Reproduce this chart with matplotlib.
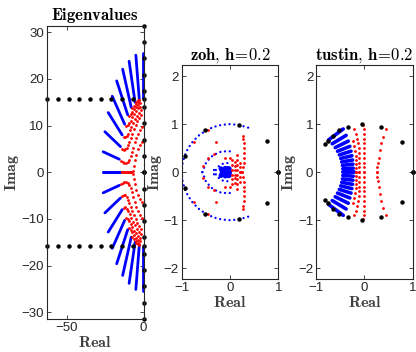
import numpy as np
import matplotlib
matplotlib.use("Agg")
import matplotlib.pyplot as plt

plt.rcParams['mathtext.fontset'] = 'cm'
plt.rcParams['font.family'] = ['Liberation Sans', 'DejaVu Sans']

# ---- continuous time (upper half, lower half is the conjugate)
ct_black_imag = [0, 3.49, 6.98, 10.47, 13.96, 15.71, 17.45, 20.94, 24.43, 27.93, 31.42]
ct_black_row_x = [-62.8, -55.9, -48.9, -41.9, -34.9, -27.9, -20.9, -14.0, -7.0]
ct_black_row_y = 15.71
# blue rays: outer point -> inner point
ct_blue_outer = [(-26.7, 0), (-26.3, 4.4), (-25.2, 8.7), (-23.0, 12.8), (-20.4, 16.3),
                 (-17.5, 19.6), (-13.6, 22.1), (-9.4, 23.8), (-5.0, 25.1), (-0.4, 25.5)]
ct_blue_inner = [(-15.3, 0), (-15.8, 2.8), (-15.0, 5.5), (-13.9, 8.0), (-12.3, 10.3),
                 (-10.3, 12.3), (-8.0, 13.9), (-5.5, 15.0), (-2.8, 15.8), (-0.4, 16.0)]
ct_red = [
    [(-14.3, 0), (-13.0, 0), (-11.7, 0), (-10.4, 0), (-9.1, 0), (-7.9, 0), (-6.8, 0.3),
     (-6.3, 1.4), (-5.6, 2.6), (-4.7, 3.8), (-3.6, 4.9), (-2.4, 5.8), (-1.2, 6.4)],
    [(-14.7, 2.5), (-13.6, 2.2), (-12.5, 2.0), (-11.4, 2.0), (-10.3, 2.2), (-9.3, 2.7),
     (-8.4, 3.4), (-7.5, 4.3), (-6.6, 5.3), (-5.7, 6.4), (-4.7, 7.4), (-3.6, 8.3), (-2.4, 9.1), (-1.2, 9.7)],
    [(-14.0, 5.0), (-13.0, 4.8), (-12.0, 4.9), (-11.0, 5.3), (-10.1, 5.9), (-9.2, 6.6),
     (-8.3, 7.4), (-7.3, 8.3), (-6.3, 9.2), (-5.2, 10.1), (-4.1, 10.9), (-2.9, 11.6), (-1.6, 12.2)],
    [(-12.9, 7.6), (-11.9, 7.5), (-10.9, 7.8), (-9.9, 8.3), (-8.9, 9.0), (-7.9, 9.8),
     (-6.8, 10.6), (-5.6, 11.4), (-4.4, 12.1), (-3.1, 12.8), (-1.8, 13.3)],
    [(-11.4, 9.9), (-10.4, 10.1), (-9.4, 10.5), (-8.3, 11.1), (-7.2, 11.8), (-6.0, 12.5),
     (-4.8, 13.1), (-3.5, 13.7), (-2.2, 14.1)],
    [(-9.4, 12.0), (-8.4, 12.4), (-7.3, 12.9), (-6.2, 13.5), (-5.0, 14.0), (-3.8, 14.5), (-2.5, 14.8)],
    [(-7.2, 13.8), (-6.2, 14.2), (-5.1, 14.7), (-3.9, 15.1), (-2.7, 15.4)],
    [(-4.8, 15.1), (-3.8, 15.4), (-2.8, 15.6)],
]

# ---- zoh, h=0.2
zoh_black = [(1.0, 0), (0.77, 0.64), (0.18, 0.98), (-0.51, 0.87), (-0.94, 0.34)]
zoh_blue = [
    [(0.375, 0.927), (0.174, 0.985), (0, 1), (-0.174, 0.985), (-0.342, 0.94), (-0.5, 0.866),
     (-0.643, 0.766), (-0.766, 0.643), (-0.866, 0.5), (-0.94, 0.342), (-0.985, 0.174), (-1, 0)],
    [(-0.573, 0), (-0.492, 0.209), (-0.348, 0.356), (-0.172, 0.432), (0.007, 0.434), (0.089, 0.41)],
    [(-0.332, 0.045), (-0.283, -0.07), (-0.208, -0.148), (-0.121, -0.186), (-0.039, -0.19), (0.029, -0.166)],
]
zoh_blob = [
    [(-0.188, 0.073), (-0.128, -0.043), (-0.015, -0.072)],
    [(-0.099, 0.082), (-0.023, -0.026)],
    [(-0.04, 0.076), (-0.01, 0.01)],
]
zoh_red_right = [(0.25, 0.0), (0.27, 0.1), (0.285, 0.2), (0.29, 0.3), (0.29, 0.4),
                 (0.285, 0.5), (0.28, 0.6), (0.27, 0.7), (0.27, 0.76)]
zoh_red_pts = [(0.05, 0.05), (0.1, 0.05), (0.15, 0.05), (0.05, 0.15), (0.1, 0.12), (0.15, 0.15),
               (0.2, 0.1), (0.2, 0.2), (0.1, 0.22), (0.15, 0.25), (0.05, 0.25), (0.2, 0.0),
               (-0.28, 0.62), (-0.33, 0.38), (-0.45, 0.3), (-0.55, 0.12), (-0.75, 0.62),
               (-0.45, 0.87), (-0.1, 0.3), (0.0, 0.3), (0.15, 0.35)]

# ---- tustin, h=0.2
tus_black = [(0.99, 0), (0.77, 0.62), (0.34, 0.94), (-0.05, 1.0), (-0.33, 0.94),
             (-0.52, 0.87), (-0.64, 0.76), (-0.75, 0.64), (-0.81, 0.58)]
tus_blue_outer = [(-0.444, 0), (-0.447, 0.07), (-0.455, 0.141), (-0.47, 0.212), (-0.49, 0.285),
                  (-0.519, 0.359), (-0.556, 0.435), (-0.604, 0.512), (-0.665, 0.591), (-0.742, 0.67)]
tus_blue_inner = [(-0.21, 0), (-0.232, 0.083), (-0.238, 0.167), (-0.246, 0.253), (-0.26, 0.342),
                  (-0.278, 0.436), (-0.302, 0.537), (-0.335, 0.646), (-0.379, 0.766), (-0.438, 0.899)]
tus_red = [
    [(0.25, 0), (0.26, 0.1), (0.27, 0.19), (0.29, 0.3), (0.32, 0.46), (0.35, 0.6), (0.39, 0.74), (0.44, 0.9)],
    [(-0.01, 0), (-0.01, 0.1), (-0.01, 0.2), (-0.01, 0.3), (-0.01, 0.4), (-0.01, 0.5),
     (-0.01, 0.6), (-0.01, 0.7), (-0.01, 0.8), (-0.02, 0.9), (-0.03, 0.98)],
    [(-0.107, 0), (-0.107, 0.1), (-0.107, 0.2), (-0.11, 0.3), (-0.11, 0.4), (-0.12, 0.5),
     (-0.13, 0.6), (-0.15, 0.7), (-0.18, 0.8), (-0.22, 0.9)],
    [(-0.175, 0), (-0.175, 0.08), (-0.175, 0.17), (-0.18, 0.25), (-0.185, 0.34), (-0.195, 0.44), (-0.21, 0.54), (-0.24, 0.65)],
]

fig = plt.figure(figsize=(4.16, 3.52), dpi=100)
ax1 = fig.add_axes([0.112, 0.094, 0.233, 0.833])
ax2 = fig.add_axes([0.4368, 0.2065, 0.2322, 0.6088])
ax3 = fig.add_axes([0.7596, 0.2065, 0.2332, 0.6088])

red_dot = dict(linestyle='none', marker='o', ms=2.0, mew=0, color='red', clip_on=False)
blk_dot = dict(linestyle='none', marker='o', ms=3.2, mew=0, color='k', clip_on=False)


def xy(pts):
    x = np.array([p[0] for p in pts])
    y = np.array([p[1] for p in pts])
    return x, y


# continuous
for o, i in zip(ct_blue_outer, ct_blue_inner):
    for s in (1, -1):
        ax1.plot([o[0], i[0]], [s * o[1], s * i[1]], color='#0000ff', lw=2.0, solid_capstyle='round')
for c in ct_red:
    x, y = xy(c)
    ax1.plot(x, y, **red_dot)
    ax1.plot(x, -y, **red_dot)
by = np.array(ct_black_imag)
ax1.plot(np.zeros_like(by), by, **blk_dot)
ax1.plot(np.zeros_like(by), -by, **blk_dot)
bx = np.array(ct_black_row_x)
ax1.plot(bx, np.full_like(bx, ct_black_row_y), **blk_dot)
ax1.plot(bx, np.full_like(bx, -ct_black_row_y), **blk_dot)
ax1.set_xlim(-63.2, 0)
ax1.set_ylim(-31.42, 31.42)
ax1.set_xticks([-50, 0])
ax1.set_yticks([-30, -20, -10, 0, 10, 20, 30])
ax1.set_title(r'$\mathbf{Eigenvalues}$', fontsize=12, pad=4)

# zoh
for c in zoh_blue:
    x, y = xy(c)
    for s in (1, -1):
        ax2.plot(x, s * y, color='#0000ff', lw=1.7, linestyle=(0, (0.01, 2.0)),
                 dash_capstyle='round')
for c in zoh_blob:
    x, y = xy(c)
    for s in (1, -1):
        ax2.plot(x, s * y, color='#0000ff', lw=3.5, solid_capstyle='round')
x, y = xy(zoh_red_right)
for s in (1, -1):
    ax2.plot(x, s * y, **red_dot)
x, y = xy(zoh_red_pts)
for s in (1, -1):
    ax2.plot(x, s * y, **red_dot)
x, y = xy(zoh_black)
for s in (1, -1):
    ax2.plot(x, s * y, **blk_dot)
ax2.set_title(r'$\mathbf{zoh,\,h\!=\!0.2}$', fontsize=12, pad=4)

# tustin
for o, i in zip(tus_blue_outer, tus_blue_inner):
    for s in (1, -1):
        ax3.plot([o[0], i[0]], [s * o[1], s * i[1]], color='#0000ff', lw=2.6, solid_capstyle='round')
for c in tus_red:
    x, y = xy(c)
    for s in (1, -1):
        ax3.plot(x, s * y, **red_dot)
x, y = xy(tus_black)
for s in (1, -1):
    ax3.plot(x, s * y, **blk_dot)
ax3.set_title(r'$\mathbf{tustin,\,h\!=\!0.2}$', fontsize=12, pad=4)

for ax in (ax2, ax3):
    ax.set_xlim(-1, 1)
    ax.set_ylim(-2.23, 2.23)
    ax.set_xticks([-1, 0, 1])
    ax.set_yticks([-2, -1, 0, 1, 2])

for ax in (ax1, ax2, ax3):
    ax.tick_params(direction='in', length=3, width=0.6, top=True, right=True,
                   labelsize=9.5, colors='#262626', pad=2)
    for sp in ax.spines.values():
        sp.set_linewidth(0.8)
        sp.set_color('#262626')
    ax.set_xlabel(r'$\mathbf{Real}$', fontsize=11.5, color='#404040', labelpad=1)
    ax.set_ylabel(r'$\mathbf{Imag}$', fontsize=11.5, color='#404040', labelpad=0)

fig.savefig('out.png', dpi=100)
